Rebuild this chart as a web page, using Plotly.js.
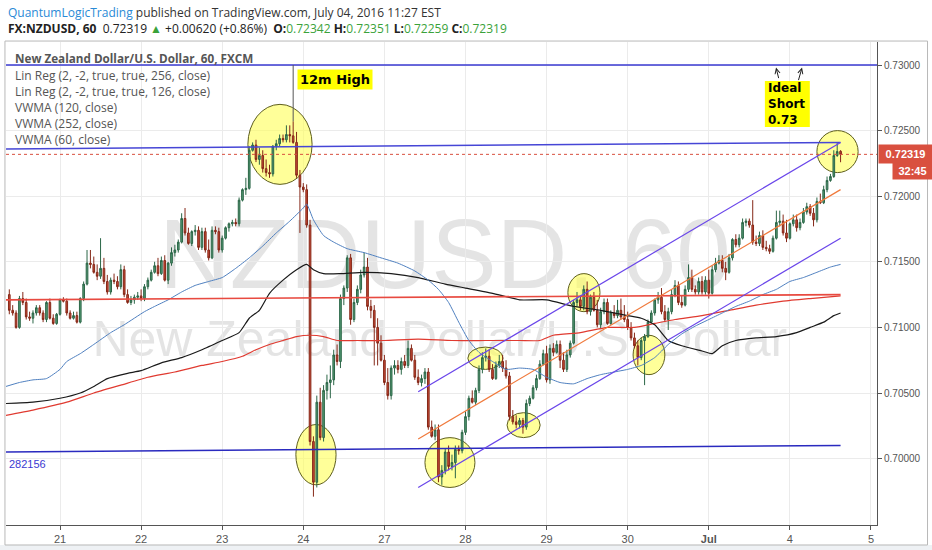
<!DOCTYPE html>
<html><head><meta charset="utf-8">
<script src="https://cdn.plot.ly/plotly-3.0.1.min.js"></script>
<style>html,body{margin:0;padding:0;background:#fff;}#chart{width:932px;height:550px;}</style>
</head><body><div id="chart"></div>
<script>
// ---- hourly bars (bar 0 = first hour of the "21" session) ----
const firstBar = -15;
const opens = [
.7125,.7113,.7111,.7100,.7122,.7119,.7108,.7107,.7111,.7115,.7111,.7106,.7119,.7107,.7103,
.7110,.7121,.7120,.7111,.7107,.7109,.7104,.7122,.7133,.7149,.7148,.7142,.7139,.7145,.7135,.7127,.7136,.7135,.7131,.7144,.7125,.7119,.7121,.7123,
.7124,.7122,.7131,.7136,.7142,.7147,.7141,.7151,.7136,.7149,.7157,.7159,.7165,.7183,.7172,.7164,.7173,.7174,.7161,.7173,.7159,.7153,.7174,.7173,
.7159,.7168,.7176,.7179,.7180,.7179,.7197,.7205,.7206,.7235,.7239,.7228,.7231,.7221,.7218,.7217,.7238,.7240,.7244,.7243,.7247,.7246,.7241,.7216,
.7207,.7205,.7178,.7013,.6982,.7043,.7016,.7052,.7058,.7060,.7079,.7074,.7122,.7130,.7153,.7106,.7119,.7129,.7140,.7146,.7116,.7113,.7100,.7088,
.7075,.7058,.7048,.7069,.7071,.7068,.7074,.7071,.7084,.7075,.7062,.7058,.7061,.7066,.7024,.7017,.7022,.6986,.6991,.7005,.6994,.6997,.7007,.7006,
.7020,.7032,.7046,.7043,.7052,.7068,.7077,.7078,.7068,.7061,.7071,.7074,.7069,.7063,.7032,.7028,.7026,.7029,.7024,.7042,.7046,.7054,.7061,.7072,
.7080,.7060,.7084,.7081,.7087,.7075,.7068,.7079,.7088,.7119,.7121,.7116,.7129,.7112,.7123,.7113,.7102,.7112,.7119,.7103,.7111,.7109,.7113,.7108,
.7106,.7100,.7092,.7086,.7077,.7090,.7093,.7104,.7111,.7121,.7123,.7112,.7106,.7112,.7125,.7132,.7119,.7117,.7129,.7138,.7129,.7127,.7135,.7127,
.7136,.7126,.7144,.7149,.7151,.7145,.7142,.7153,.7167,.7163,.7168,.7180,.7181,.7178,.7165,.7164,.7170,.7161,.7160,.7158,.7168,.7180,.7181,.7172,
.7168,.7179,.7182,.7176,.7180,.7188,.7192,.7187,.7182,.7196,.7195,.7205,.7212,.7215,.7231,.72342];
const highs = [
.7129,.7117,.7113,.7124,.7127,.7122,.7112,.7113,.7117,.7117,.7113,.7120,.7122,.7110,.7111,
.7122,.7123,.7122,.7113,.7112,.7112,.7123,.7135,.7159,.7159,.7154,.7148,.7168,.7153,.7140,.7138,.7141,.7139,.7148,.7147,.7129,.7124,.7125,.7127,
.7129,.7133,.7138,.7144,.7150,.7153,.7154,.7155,.7150,.7161,.7163,.7167,.7187,.7191,.7176,.7174,.7178,.7177,.7176,.7176,.7167,.7177,.7177,.7176,
.7170,.7177,.7180,.7182,.7183,.7199,.7206,.7214,.7238,.7241,.7243,.7237,.7235,.7228,.7224,.7239,.7243,.7247,.7247,.7254,.7254,.7257,.7249,.7220,
.7210,.7209,.7182,.7017,.7048,.7054,.7056,.7064,.7071,.7083,.7087,.7125,.7132,.7155,.7156,.7122,.7132,.7144,.7157,.7153,.7121,.7117,.7107,.7094,
.7079,.7069,.7071,.7075,.7075,.7077,.7079,.7090,.7087,.7079,.7068,.7064,.7069,.7069,.7029,.7026,.7026,.6995,.7008,.7010,.7003,.7010,.7010,.7022,
.7036,.7048,.7052,.7054,.7071,.7081,.7084,.7083,.7072,.7074,.7079,.7079,.7075,.7066,.7037,.7033,.7031,.7031,.7045,.7048,.7056,.7064,.7075,.7083,
.7086,.7087,.7088,.7090,.7090,.7081,.7083,.7090,.7121,.7127,.7124,.7132,.7135,.7125,.7127,.7121,.7115,.7122,.7122,.7113,.7117,.7121,.7122,.7117,
.7112,.7104,.7096,.7090,.7092,.7095,.7106,.7113,.7122,.7127,.7130,.7117,.7115,.7129,.7136,.7135,.7124,.7132,.7148,.7144,.7132,.7138,.7139,.7139,
.7144,.7147,.7153,.7155,.7155,.7150,.7156,.7168,.7171,.7171,.7183,.7183,.7183,.7197,.7170,.7173,.7174,.7166,.7163,.7170,.7189,.7189,.7186,.7182,
.7180,.7186,.7186,.7183,.7191,.7195,.7194,.7191,.7199,.7202,.7208,.7215,.7217,.7235,.7241,.72351];
const lows = [
.7110,.7109,.7099,.7099,.7117,.7106,.7105,.7103,.7109,.7109,.7104,.7104,.7106,.7102,.7102,
.7109,.7119,.7109,.7106,.7106,.7103,.7103,.7120,.7132,.7145,.7141,.7136,.7137,.7133,.7125,.7125,.7133,.7129,.7129,.7123,.7118,.7117,.7118,.7121,
.7120,.7120,.7129,.7135,.7141,.7139,.7140,.7135,.7133,.7147,.7154,.7157,.7164,.7170,.7163,.7162,.7170,.7159,.7159,.7157,.7151,.7152,.7171,.7157,
.7157,.7167,.7173,.7177,.7177,.7177,.7196,.7201,.7205,.7234,.7226,.7224,.7218,.7215,.7214,.7215,.7235,.7238,.7241,.7241,.7241,.7240,.7214,.7172,
.7203,.7176,.7010,.6971,.6978,.7014,.7013,.7045,.7046,.7056,.7071,.7069,.7117,.7127,.7102,.7104,.7117,.7126,.7138,.7113,.7107,.7071,.7071,.7074,
.7056,.7045,.7045,.7064,.7065,.7064,.7069,.7069,.7074,.7060,.7056,.7055,.7057,.7022,.7016,.7014,.6982,.6980,.6988,.6991,.6991,.6985,.7003,.7004,
.7018,.7029,.7042,.7041,.7050,.7065,.7074,.7066,.7060,.7060,.7069,.7066,.7061,.7029,.7026,.7023,.7023,.7019,.7022,.7040,.7045,.7052,.7060,.7071,
.7058,.7057,.7078,.7080,.7069,.7066,.7066,.7077,.7087,.7116,.7113,.7113,.7110,.7109,.7112,.7100,.7099,.7110,.7102,.7102,.7107,.7107,.7106,.7104,
.7098,.7090,.7084,.7071,.7075,.7056,.7092,.7103,.7109,.7118,.7110,.7104,.7098,.7110,.7123,.7117,.7115,.7116,.7127,.7127,.7125,.7125,.7125,.7125,
.7122,.7125,.7142,.7148,.7142,.7136,.7141,.7151,.7161,.7161,.7167,.7177,.7176,.7163,.7162,.7162,.7159,.7158,.7156,.7157,.7167,.7177,.7170,.7165,
.7167,.7177,.7173,.7174,.7179,.7186,.7185,.7177,.7180,.7194,.7194,.7203,.7211,.7214,.7230,.72259];
const closes = [
.7113,.7111,.7100,.7122,.7119,.7108,.7107,.7111,.7115,.7111,.7106,.7119,.7107,.7103,.7110,
.7121,.7120,.7111,.7107,.7109,.7104,.7122,.7133,.7149,.7148,.7142,.7139,.7145,.7135,.7127,.7136,.7135,.7131,.7144,.7125,.7119,.7121,.7123,.7124,
.7122,.7131,.7136,.7142,.7147,.7141,.7151,.7136,.7149,.7157,.7159,.7165,.7183,.7172,.7164,.7173,.7174,.7161,.7173,.7159,.7153,.7174,.7173,.7159,
.7168,.7176,.7179,.7180,.7179,.7197,.7205,.7206,.7235,.7239,.7228,.7231,.7221,.7218,.7217,.7238,.7240,.7244,.7243,.7247,.7246,.7241,.7216,.7207,
.7205,.7178,.7013,.6982,.7043,.7016,.7052,.7058,.7060,.7079,.7074,.7122,.7130,.7153,.7106,.7119,.7129,.7140,.7146,.7116,.7113,.7100,.7088,.7075,
.7058,.7048,.7069,.7071,.7068,.7074,.7071,.7084,.7075,.7062,.7058,.7061,.7066,.7024,.7017,.7022,.6986,.6991,.7005,.6994,.6997,.7007,.7006,.7020,
.7032,.7046,.7043,.7052,.7068,.7077,.7078,.7068,.7061,.7071,.7074,.7069,.7063,.7032,.7028,.7026,.7029,.7024,.7042,.7046,.7054,.7061,.7072,.7080,
.7060,.7084,.7081,.7087,.7075,.7068,.7079,.7088,.7119,.7121,.7116,.7129,.7112,.7123,.7113,.7102,.7112,.7119,.7103,.7111,.7109,.7113,.7108,.7106,
.7100,.7092,.7086,.7077,.7090,.7093,.7104,.7111,.7121,.7123,.7112,.7106,.7112,.7125,.7132,.7119,.7117,.7129,.7138,.7129,.7127,.7135,.7127,.7136,
.7126,.7144,.7149,.7151,.7145,.7142,.7153,.7167,.7163,.7168,.7180,.7181,.7178,.7165,.7164,.7170,.7161,.7160,.7158,.7168,.7180,.7181,.7172,.7168,
.7179,.7182,.7176,.7180,.7188,.7192,.7187,.7182,.7196,.7195,.7205,.7212,.7215,.7231,.7234,.72319];

const dayLabels = ['21','22','23','24','27','28','29','30','<b>Jul</b>','4','5'];
const barsPerDay = 24;
const priceTicks = [0.700, 0.705, 0.710, 0.715, 0.720, 0.725, 0.730];

// ---- indicators ----
const vwma60Bars = [-16,-12,-8,-4,0,2,6,10,15,19,25,28,32,36,40,44,48,52,56,60,64,68,72,73,75,78,81,85,90,95,100,105,109,112,115,118,121,124,128,132,136,140,144,148,152,156,160,164,168,172,176,180,184,188,192,196,200,204,208,212,216,220,224,228,231];
const vwma60 = [0.7055,0.7058,0.7060,0.7061,0.7068,0.7074,0.7080,0.7087,0.7096,0.7102,0.7112,0.7116,0.7121,0.7127,0.7132,0.7135,0.7138,0.7145,0.7153,0.7162,0.7172,0.7181,0.7191,0.7194,0.7182,0.7170,0.7165,0.7160,0.7157,0.7153,0.7149,0.7143,0.7136,0.7129,0.7119,0.7104,0.7090,0.7081,0.7074,0.7068,0.7069,0.7068,0.7062,0.7058,0.7057,0.7061,0.7064,0.7066,0.7068,0.7071,0.7077,0.7087,0.7095,0.7101,0.7106,0.7111,0.7116,0.7120,0.7125,0.7129,0.7135,0.7138,0.7142,0.7146,0.7148];
const vwma120Bars = [-16,-8,0,6,10,14,20,24,30,36,42,48,53,56,59,62,66,70,73,75,78,83,90,98,106,114,120,128,136,144,152,160,168,172,176,180,184,190,193,196,200,206,212,218,222,226,229,231];
const vwma120 = [0.7042,0.7043,0.7046,0.7050,0.7055,0.7061,0.7065,0.7067,0.7073,0.7077,0.7083,0.7090,0.7096,0.7107,0.7113,0.7126,0.7136,0.7144,0.7148,0.7144,0.7141,0.7141,0.7142,0.7141,0.7138,0.7133,0.7130,0.7126,0.7121,0.7121,0.7116,0.7113,0.7109,0.7107,0.7102,0.7090,0.7086,0.7082,0.7080,0.7086,0.7090,0.7092,0.7093,0.7096,0.7100,0.7104,0.7109,0.7111];
const vwma252Bars = [-16,-8,2,10,18,26,34,42,48,54,58,62,66,70,74,78,82,88,96,106,116,126,136,142,146,154,162,170,176,182,190,198,206,214,222,231];
const vwma252 = [0.7033,0.7037,0.7043,0.7050,0.7056,0.7062,0.7066,0.7071,0.7074,0.7078,0.7083,0.7087,0.7090,0.7093,0.7094,0.7093,0.7090,0.7090,0.7090,0.7091,0.7090,0.7090,0.7090,0.7090,0.7094,0.7096,0.7100,0.7100,0.7103,0.7106,0.7109,0.7113,0.7117,0.7120,0.7122,0.7124];

const linReg256Bars = [-17, 231];
const linReg256Upper = [0.7236, 0.7241];
const linReg256Mid = [0.7121, 0.7125];
const linReg256Lower = [0.7005, 0.7010];
const linReg126Bars = [106, 231];
const linReg126Upper = [0.7051, 0.7241];
const linReg126Mid = [0.7015, 0.7205];
const linReg126Lower = [0.6978, 0.7168];

// drawn levels / highlights
const targetLevel = 0.73;
const hlBarFrom = [55.6, 69.8, 108.0, 120.7, 132.3, 150.3, 169.6, 224.0];
const hlBarTo   = [74.6, 81.7, 122.8, 131.1, 142.1, 159.8, 179.0, 236.2];
const hlLow  = [0.7209, 0.6980, 0.6978, 0.7068, 0.7016, 0.7112, 0.7064, 0.7218];
const hlHigh = [0.7270, 0.7026, 0.7016, 0.7085, 0.7035, 0.7141, 0.7094, 0.7250];
const shortNoteLines = ['Ideal', 'Short', '0.73'];

// ---- build ----
const bars = opens.map((_, k) => firstBar + k);
const tickvals = dayLabels.map((_, k) => k * barsPerDay);
const lastClose = closes[closes.length - 1];
let hiIdx = 0; highs.forEach((h, k) => { if (h > highs[hiIdx]) hiIdx = k; });

const traces = [
  {type:'candlestick', x:bars, open:opens, high:highs, low:lows, close:closes,
   increasing:{line:{color:'#2b6647', width:1}, fillcolor:'#559a74'},
   decreasing:{line:{color:'#852818', width:1}, fillcolor:'#c84a36'},
   whiskerwidth:0, hoverinfo:'skip'},
  {type:'scatter', mode:'lines', x:vwma252Bars, y:vwma252, line:{color:'#e03a30', width:1.2, shape:'spline', smoothing:0.5}, hoverinfo:'skip'},
  {type:'scatter', mode:'lines', x:vwma120Bars, y:vwma120, line:{color:'#1a1a1a', width:1.2, shape:'spline', smoothing:0.5}, hoverinfo:'skip'},
  {type:'scatter', mode:'lines', x:vwma60Bars, y:vwma60, line:{color:'#4f80c0', width:1, shape:'spline', smoothing:0.5}, hoverinfo:'skip'},
  {type:'scatter', mode:'lines', x:linReg256Bars, y:linReg256Mid, line:{color:'#e84a40', width:1.6}, hoverinfo:'skip'},
  {type:'scatter', mode:'lines', x:linReg256Bars, y:linReg256Upper, line:{color:'#4646d6', width:1.5}, hoverinfo:'skip'},
  {type:'scatter', mode:'lines', x:linReg256Bars, y:linReg256Lower, line:{color:'#2a2abf', width:1.5}, hoverinfo:'skip'},
  {type:'scatter', mode:'lines', x:linReg126Bars, y:linReg126Upper, line:{color:'#6a46ea', width:1.2}, hoverinfo:'skip'},
  {type:'scatter', mode:'lines', x:linReg126Bars, y:linReg126Mid, line:{color:'#f07a3c', width:1.2}, hoverinfo:'skip'},
  {type:'scatter', mode:'lines', x:linReg126Bars, y:linReg126Lower, line:{color:'#6a46ea', width:1.2}, hoverinfo:'skip'}
];

const shapes = [
  {type:'rect', xref:'paper', yref:'paper', x0:-0.02, x1:1.08, y0:-0.07, y1:-0.0414, fillcolor:'#eef1f4', line:{width:0}, layer:'below'},
  {type:'rect', xref:'paper', yref:'paper', x0:-0.0012, x1:1.058, y0:-0.0414, y1:1.002, fillcolor:'rgba(0,0,0,0)', line:{color:'#b8b8b8', width:1}, layer:'above'},
  {type:'rect', xref:'paper', yref:'paper', x0:0.2, x1:0.808, y0:0.51, y1:0.65, line:{width:0}, fillcolor:'rgba(0,0,0,0)', layer:'between',
   label:{text:'NZDUSD, 60', textposition:'middle center', font:{family:'Liberation Sans, Arial, sans-serif', size:98, color:'rgba(110,110,110,0.19)'}}},
  {type:'rect', xref:'paper', yref:'paper', x0:0.1, x1:0.896, y0:0.345, y1:0.445, line:{width:0}, fillcolor:'rgba(0,0,0,0)', layer:'between',
   label:{text:'New Zealand Dollar/U.S. Dollar', textposition:'middle center', font:{family:'Liberation Sans, Arial, sans-serif', size:50, color:'rgba(110,110,110,0.19)'}}},
  {type:'line', xref:'paper', x0:0, x1:1, yref:'y', y0:targetLevel, y1:targetLevel, line:{color:'#3a3ad2', width:1.5}, layer:'above'},
  {type:'line', xref:'paper', x0:0, x1:1, yref:'y', y0:lastClose, y1:lastClose, line:{color:'#d9503f', width:1, dash:'dot'}, layer:'above'},
  {type:'line', xref:'x', yref:'y', x0:bars[hiIdx], x1:bars[hiIdx], y0:highs[hiIdx], y1:targetLevel, line:{color:'#555', width:1}, layer:'above'},
  // "Ideal Short" note background
  {type:'rect', xref:'x', yref:'y', x0:208.6, x1:221.9, y0:0.72527, y1:0.72878, fillcolor:'#ffff00', line:{width:0}, layer:'above'}
];
hlBarFrom.forEach((b, k) => shapes.push({type:'circle', xref:'x', yref:'y', x0:b, x1:hlBarTo[k], y0:hlLow[k], y1:hlHigh[k],
  fillcolor:'rgba(255,255,90,0.62)', line:{color:'#5e5e1e', width:1}, layer:'between'}));

const hdr = {family:'Open Sans, sans-serif', size:12, color:'#333'};
const leg = {family:'Open Sans, sans-serif', size:12, color:'#555'};
const noteFont = {family:'DejaVu Sans, sans-serif', size:13, color:'#000'};
const noteFont2 = {family:'DejaVu Sans, sans-serif', size:12, color:'#000'};
const green = '#3aa23a';
const annotations = [
  {xref:'paper', yref:'paper', x:0, y:1, xanchor:'left', yanchor:'middle', xshift:0, yshift:30, showarrow:false, font:hdr,
   text:'<span style="color:#2a8ad6">QuantumLogicTrading</span> published on TradingView.com, July 04, 2016 11:27 EST'},
  {xref:'paper', yref:'paper', x:0, y:1, xanchor:'left', yanchor:'middle', xshift:0, yshift:14, showarrow:false, font:Object.assign({}, hdr, {color:'#222'}),
   text:'<b>FX:NZDUSD, 60</b>  0.72319 <span style="color:'+green+'">▲</span> +0.00620 (+0.86%)  <b>O:</b><span style="color:'+green+'">0.72342</span> <b>H:</b><span style="color:'+green+'">0.72351</span> <b>L:</b><span style="color:'+green+'">0.72259</span> <b>C:</b><span style="color:'+green+'">0.72319</span>'},
  {xref:'paper', yref:'paper', x:0, y:1, xanchor:'left', yanchor:'middle', xshift:7, yshift:-16, showarrow:false, font:Object.assign({}, leg, {size:11.7}), text:'<b>New Zealand Dollar/U.S. Dollar, 60, FXCM</b>'},
  {xref:'paper', yref:'paper', x:0, y:1, xanchor:'left', yanchor:'middle', xshift:7, yshift:-33, showarrow:false, font:leg, text:'Lin Reg (2, -2, true, true, 256, close)'},
  {xref:'paper', yref:'paper', x:0, y:1, xanchor:'left', yanchor:'middle', xshift:7, yshift:-49, showarrow:false, font:leg, text:'Lin Reg (2, -2, true, true, 126, close)'},
  {xref:'paper', yref:'paper', x:0, y:1, xanchor:'left', yanchor:'middle', xshift:7, yshift:-65, showarrow:false, font:leg, text:'VWMA (120, close)'},
  {xref:'paper', yref:'paper', x:0, y:1, xanchor:'left', yanchor:'middle', xshift:7, yshift:-81, showarrow:false, font:leg, text:'VWMA (252, close)'},
  {xref:'paper', yref:'paper', x:0, y:1, xanchor:'left', yanchor:'middle', xshift:7, yshift:-97, showarrow:false, font:leg, text:'VWMA (60, close)'},
  {xref:'x', yref:'y', x:81.4, y:0.7289, showarrow:false, text:'<b>12m High</b>', bgcolor:'#ffff00', borderpad:2, font:noteFont},
  {xref:'x', yref:'y', x:209.2, y:0.72826, xanchor:'left', showarrow:false, borderpad:0, text:'<b>'+shortNoteLines[0]+'</b>', font:noteFont2},
  {xref:'x', yref:'y', x:209.2, y:0.72704, xanchor:'left', showarrow:false, borderpad:0, text:'<b>'+shortNoteLines[1]+'</b>', font:noteFont2},
  {xref:'x', yref:'y', x:209.2, y:0.72582, xanchor:'left', showarrow:false, borderpad:0, text:'<b>'+shortNoteLines[2]+'</b>', font:noteFont2},
  {xref:'x', yref:'y', x:211.9, y:0.7298, ax:3, ay:12, text:'', showarrow:true, arrowhead:5, arrowsize:1, arrowwidth:1, arrowcolor:'#222'},
  {xref:'x', yref:'y', x:219.6, y:0.7298, ax:-4, ay:14, text:'', showarrow:true, arrowhead:5, arrowsize:1, arrowwidth:1, arrowcolor:'#222'},
  {xref:'paper', yref:'y', x:0, y:0.69959, xanchor:'left', xshift:1, showarrow:false, text:'282156',
   font:{family:'Liberation Sans, Arial, sans-serif', size:11, color:'#3a3ad2'}},
  {xref:'paper', yref:'y', x:1, y:lastClose, xanchor:'left', xshift:1, showarrow:false, text:'<b>'+lastClose.toFixed(5)+'</b>',
   bgcolor:'#d9503f', borderpad:3, width:47, font:{family:'Liberation Sans, Arial, sans-serif', size:11, color:'#fff'}},
  {xref:'paper', yref:'y', x:1, y:lastClose, xanchor:'left', xshift:15, yshift:-17, showarrow:false, text:'<b>32:45</b>',
   bgcolor:'#d9503f', borderpad:2, width:35, font:{family:'Liberation Sans, Arial, sans-serif', size:11, color:'#fff'}}
];

const layout = {
  width:932, height:550,
  margin:{l:6, r:55, t:42, b:25},
  paper_bgcolor:'#ffffff', plot_bgcolor:'#ffffff',
  showlegend:false, hovermode:false, dragmode:false,
  font:{family:'Liberation Sans, Arial, sans-serif', size:10, color:'#555'},
  xaxis:{range:[-15.98, 241.78], tickmode:'array', tickvals:tickvals, ticktext:dayLabels, showgrid:true, gridcolor:'#ebebeb',
    zeroline:false, showline:true, linecolor:'#555', linewidth:1, ticks:'outside', ticklen:4, tickcolor:'#555',
    tickfont:{size:11, color:'#555'}, rangeslider:{visible:false}, fixedrange:true},
  yaxis:{side:'right', range:[0.694939, 0.731753], tickmode:'array', tickvals:priceTicks, tickformat:'.5f', showgrid:true, gridcolor:'#ebebeb',
    zeroline:false, showline:true, linecolor:'#555', linewidth:1, ticks:'outside', ticklen:4, tickcolor:'#555',
    tickfont:{size:10, color:'#555'}, fixedrange:true},
  shapes:shapes, annotations:annotations
};
Plotly.newPlot('chart', traces, layout, {staticPlot:true, displayModeBar:false});
</script>
</body></html>
